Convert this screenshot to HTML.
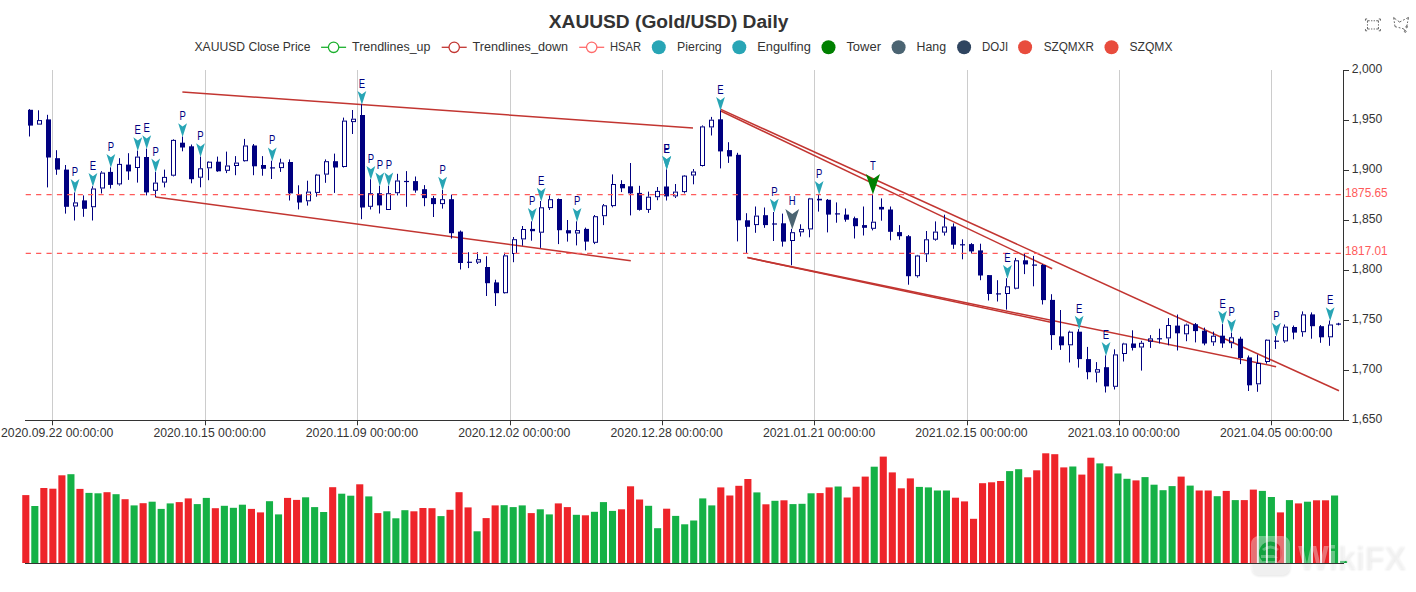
<!DOCTYPE html>
<html><head><meta charset="utf-8"><title>XAUUSD (Gold/USD) Daily</title>
<style>html,body{margin:0;padding:0;background:#fff;}body{width:1416px;height:592px;overflow:hidden;font-family:"Liberation Sans",sans-serif;}svg{display:block}</style>
</head><body>
<svg width="1416" height="592" viewBox="0 0 1416 592" font-family="'Liberation Sans', sans-serif">
<rect width="1416" height="592" fill="#fff"/>
<text x="668.6" y="28.4" font-size="18" font-weight="bold" fill="#333" text-anchor="middle" textLength="239.7" lengthAdjust="spacingAndGlyphs">XAUUSD (Gold/USD) Daily</text>
<text x="194.5" y="51.1" font-size="12.3" fill="#333" textLength="115.9" lengthAdjust="spacingAndGlyphs">XAUUSD Close Price</text>
<path d="M321.1 47.3H346.1" stroke="#1cb02e" stroke-width="1.3" fill="none"/>
<circle cx="333.6" cy="47.3" r="5.2" fill="#fff" stroke="#1cb02e" stroke-width="1.3"/>
<text x="352.1" y="51.1" font-size="12.3" fill="#333" textLength="78.3" lengthAdjust="spacingAndGlyphs">Trendlines_up</text>
<path d="M441.7 47.3H466.7" stroke="#c23531" stroke-width="1.3" fill="none"/>
<circle cx="454.2" cy="47.3" r="5.2" fill="#fff" stroke="#c23531" stroke-width="1.3"/>
<text x="472.5" y="51.1" font-size="12.3" fill="#333" textLength="95.6" lengthAdjust="spacingAndGlyphs">Trendlines_down</text>
<path d="M579.2 47.3H604.2" stroke="#ff6b6b" stroke-width="1.3" fill="none"/>
<circle cx="591.7" cy="47.3" r="5.2" fill="#fff" stroke="#ff6b6b" stroke-width="1.3"/>
<text x="610.0" y="51.1" font-size="12.3" fill="#333" textLength="31.0" lengthAdjust="spacingAndGlyphs">HSAR</text>
<circle cx="658.8" cy="47.3" r="7" fill="#28a5b5"/>
<text x="677.1" y="51.1" font-size="12.3" fill="#333" textLength="44.5" lengthAdjust="spacingAndGlyphs">Piercing</text>
<circle cx="739.3" cy="47.3" r="7" fill="#28a5b5"/>
<text x="757.3" y="51.1" font-size="12.3" fill="#333" textLength="53.5" lengthAdjust="spacingAndGlyphs">Engulfing</text>
<circle cx="828.5" cy="47.3" r="7" fill="#008000"/>
<text x="846.4" y="51.1" font-size="12.3" fill="#333" textLength="34.6" lengthAdjust="spacingAndGlyphs">Tower</text>
<circle cx="898.6" cy="47.3" r="7" fill="#4b6472"/>
<text x="916.6" y="51.1" font-size="12.3" fill="#333" textLength="29.5" lengthAdjust="spacingAndGlyphs">Hang</text>
<circle cx="964.1" cy="47.3" r="7" fill="#2f4560"/>
<text x="982.0" y="51.1" font-size="12.3" fill="#333" textLength="26.1" lengthAdjust="spacingAndGlyphs">DOJI</text>
<circle cx="1025.1" cy="47.3" r="7" fill="#e84c3d"/>
<text x="1043.7" y="51.1" font-size="12.3" fill="#333" textLength="50.2" lengthAdjust="spacingAndGlyphs">SZQMXR</text>
<circle cx="1111.5" cy="47.3" r="7" fill="#e84c3d"/>
<text x="1129.5" y="51.1" font-size="12.3" fill="#333" textLength="43.0" lengthAdjust="spacingAndGlyphs">SZQMX</text>
<g fill="none" stroke="#666" stroke-width="1">
<path transform="translate(1365.4,19.0) scale(0.168)" d="M0.4,10V-0.2h9.8 M89.6,10V-0.2h-9.8 M0.4,60v10.2h9.8 M89.6,60v10.2h-9.8 M12.3,22.4V10.5h13.1 M33.6,10.5h7.8 M49.1,10.5h7.8 M77.5,22.4V10.5h-13.1 M12.3,31.1v8.2 M77.7,31.1v8.2 M12.3,47.6v11.9h13.1 M33.6,59.5h7.6 M49.1,59.5h7.7 M77.5,47.6v11.9h-13.1" stroke-width="5.95"/>
<path transform="translate(1390.9,16.07) scale(0.285)" d="M55.2,34.9c1.7,0,3.1,1.4,3.1,3.1s-1.4,3.1-3.1,3.1s-3.1-1.4-3.1-3.1S53.5,34.9,55.2,34.9z M50.4,51c1.7,0,3.1,1.4,3.1,3.1c0,1.7-1.4,3.1-3.1,3.1c-1.7,0-3.1-1.4-3.1-3.1C47.3,52.4,48.7,51,50.4,51z M55.6,37.1l1.5-7.8 M60.1,13.5l1.6-8.7l-7.8,4 M59,19l-1,5.3 M24,16.1l6.4,4.9l6.4-3.3 M48.5,11.6l-5.9,3.1 M19.1,12.8L9.7,5.1l1.1,7.7 M13.4,29.8l1,7.3l6.6,1.6 M11.6,18.4l1,6.1 M27.3,40.2l6.1,1.6 M49.9,52.1l-5.6-7.6l-4.9-1.2" stroke-width="3.5"/>
</g>
<path d="M52.5 70.0V420.0" stroke="#ccc" stroke-width="1"/>
<path d="M205.5 70.0V420.0" stroke="#ccc" stroke-width="1"/>
<path d="M357.5 70.0V420.0" stroke="#ccc" stroke-width="1"/>
<path d="M510.5 70.0V420.0" stroke="#ccc" stroke-width="1"/>
<path d="M662.5 70.0V420.0" stroke="#ccc" stroke-width="1"/>
<path d="M814.5 70.0V420.0" stroke="#ccc" stroke-width="1"/>
<path d="M967.5 70.0V420.0" stroke="#ccc" stroke-width="1"/>
<path d="M1119.5 70.0V420.0" stroke="#ccc" stroke-width="1"/>
<path d="M1271.5 70.0V420.0" stroke="#ccc" stroke-width="1"/>
<path d="M25 420.5H1344" stroke="#333" stroke-width="1"/>
<path d="M1343.5 70.0V421.0" stroke="#333" stroke-width="1"/>
<path d="M52.5 420.5v4.8" stroke="#333" stroke-width="1"/>
<text x="57.2" y="437" font-size="12.4" fill="#333" text-anchor="middle" textLength="112.3" lengthAdjust="spacingAndGlyphs">2020.09.22 00:00:00</text>
<path d="M205.5 420.5v4.8" stroke="#333" stroke-width="1"/>
<text x="209.6" y="437" font-size="12.4" fill="#333" text-anchor="middle" textLength="112.3" lengthAdjust="spacingAndGlyphs">2020.10.15 00:00:00</text>
<path d="M357.5 420.5v4.8" stroke="#333" stroke-width="1"/>
<text x="361.9" y="437" font-size="12.4" fill="#333" text-anchor="middle" textLength="112.3" lengthAdjust="spacingAndGlyphs">2020.11.09 00:00:00</text>
<path d="M510.5 420.5v4.8" stroke="#333" stroke-width="1"/>
<text x="514.3" y="437" font-size="12.4" fill="#333" text-anchor="middle" textLength="112.3" lengthAdjust="spacingAndGlyphs">2020.12.02 00:00:00</text>
<path d="M662.5 420.5v4.8" stroke="#333" stroke-width="1"/>
<text x="666.7" y="437" font-size="12.4" fill="#333" text-anchor="middle" textLength="112.3" lengthAdjust="spacingAndGlyphs">2020.12.28 00:00:00</text>
<path d="M814.5 420.5v4.8" stroke="#333" stroke-width="1"/>
<text x="819.1" y="437" font-size="12.4" fill="#333" text-anchor="middle" textLength="112.3" lengthAdjust="spacingAndGlyphs">2021.01.21 00:00:00</text>
<path d="M967.5 420.5v4.8" stroke="#333" stroke-width="1"/>
<text x="971.4" y="437" font-size="12.4" fill="#333" text-anchor="middle" textLength="112.3" lengthAdjust="spacingAndGlyphs">2021.02.15 00:00:00</text>
<path d="M1119.5 420.5v4.8" stroke="#333" stroke-width="1"/>
<text x="1123.8" y="437" font-size="12.4" fill="#333" text-anchor="middle" textLength="112.3" lengthAdjust="spacingAndGlyphs">2021.03.10 00:00:00</text>
<path d="M1271.5 420.5v4.8" stroke="#333" stroke-width="1"/>
<text x="1276.2" y="437" font-size="12.4" fill="#333" text-anchor="middle" textLength="112.3" lengthAdjust="spacingAndGlyphs">2021.04.05 00:00:00</text>
<path d="M1343.5 70.5h5.5" stroke="#333" stroke-width="1"/>
<text x="1351.8" y="72.9" font-size="12.4" fill="#333" textLength="30.4" lengthAdjust="spacingAndGlyphs">2,000</text>
<path d="M1343.5 120.5h5.5" stroke="#333" stroke-width="1"/>
<text x="1351.8" y="122.9" font-size="12.4" fill="#333" textLength="30.4" lengthAdjust="spacingAndGlyphs">1,950</text>
<path d="M1343.5 170.5h5.5" stroke="#333" stroke-width="1"/>
<text x="1351.8" y="172.9" font-size="12.4" fill="#333" textLength="30.4" lengthAdjust="spacingAndGlyphs">1,900</text>
<path d="M1343.5 220.5h5.5" stroke="#333" stroke-width="1"/>
<text x="1351.8" y="222.9" font-size="12.4" fill="#333" textLength="30.4" lengthAdjust="spacingAndGlyphs">1,850</text>
<path d="M1343.5 270.5h5.5" stroke="#333" stroke-width="1"/>
<text x="1351.8" y="272.9" font-size="12.4" fill="#333" textLength="30.4" lengthAdjust="spacingAndGlyphs">1,800</text>
<path d="M1343.5 320.5h5.5" stroke="#333" stroke-width="1"/>
<text x="1351.8" y="322.9" font-size="12.4" fill="#333" textLength="30.4" lengthAdjust="spacingAndGlyphs">1,750</text>
<path d="M1343.5 370.5h5.5" stroke="#333" stroke-width="1"/>
<text x="1351.8" y="372.9" font-size="12.4" fill="#333" textLength="30.4" lengthAdjust="spacingAndGlyphs">1,700</text>
<path d="M1343.5 420.5h5.5" stroke="#333" stroke-width="1"/>
<text x="1351.8" y="422.9" font-size="12.4" fill="#333" textLength="30.4" lengthAdjust="spacingAndGlyphs">1,650</text>
<g stroke="#c23531" stroke-width="1.5" fill="none" stroke-linecap="butt">
<path d="M182.4 92.0L693 128.0"/>
<path d="M155.3 197.0L630.8 260.8"/>
<path d="M720.8 109.4L1339 390.8"/>
<path d="M720.8 111.0L1052.2 268.8"/>
<path d="M747.4 257.6L1276.1 366.7"/>
<path d="M747.4 257.6L1052 322.4"/>
</g>
<g stroke="#000080" stroke-width="1.05" fill="#000080">
<path d="M29.5 109.1V136.5" />
<rect x="28" y="109.8" width="5" height="15.8" stroke="none"/>
<path d="M38.5 110.3V120.1"/>
<rect x="37.5" y="120.6" width="4" height="3.5" fill="none" stroke-width="1"/>
<path d="M47.5 114.8V187.4" />
<rect x="46" y="119.4" width="5" height="38.1" stroke="none"/>
<path d="M56.5 150.2V174.8" />
<rect x="55" y="158.2" width="5" height="11.4" stroke="none"/>
<path d="M65.5 165.0V213.6" />
<rect x="64" y="169.6" width="5" height="37.2" stroke="none"/>
<path d="M74.5 192.4V202.4"/>
<path d="M74.5 206.5V220.5"/>
<rect x="73.5" y="202.9" width="4" height="3.1" fill="none" stroke-width="1"/>
<path d="M83.5 195.4V216.8" />
<rect x="82" y="200.4" width="5" height="8.4" stroke="none"/>
<path d="M92.5 186.2V188.5"/>
<path d="M92.5 207.2V220.5"/>
<rect x="91.5" y="189.0" width="4" height="17.7" fill="none" stroke-width="1"/>
<path d="M101.5 171.2V172.6"/>
<path d="M101.5 188.5V193.5"/>
<rect x="100.5" y="173.1" width="4" height="14.9" fill="none" stroke-width="1"/>
<path d="M110.5 167.3V188.5" />
<rect x="108" y="171.9" width="5" height="13.0" stroke="none"/>
<path d="M119.5 158.2V163.9"/>
<path d="M119.5 184.4V185.6"/>
<rect x="117.5" y="164.4" width="4" height="19.5" fill="none" stroke-width="1"/>
<path d="M128.5 153.2V179.9" />
<rect x="126" y="164.6" width="5" height="6.8" stroke="none"/>
<path d="M137.5 150.6V156.6"/>
<path d="M137.5 168.0V182.6"/>
<rect x="135.5" y="157.1" width="4" height="10.4" fill="none" stroke-width="1"/>
<path d="M146.5 148.6V195.4" />
<rect x="144" y="157.0" width="5" height="35.4" stroke="none"/>
<path d="M155.5 171.9V182.6"/>
<path d="M155.5 190.8V197.0"/>
<rect x="153.5" y="183.1" width="4" height="7.2" fill="none" stroke-width="1"/>
<path d="M164.5 169.6V176.9"/>
<path d="M164.5 182.6V187.4"/>
<rect x="162.5" y="177.4" width="4" height="4.7" fill="none" stroke-width="1"/>
<path d="M173.5 139.2V139.9"/>
<path d="M173.5 175.7V176.4"/>
<rect x="171.5" y="140.4" width="4" height="34.8" fill="none" stroke-width="1"/>
<path d="M182.5 136.5V151.3" />
<rect x="180" y="142.7" width="5" height="4.8" stroke="none"/>
<path d="M191.5 144.5V183.3" />
<rect x="189" y="146.3" width="5" height="32.9" stroke="none"/>
<path d="M200.5 156.6V168.3"/>
<path d="M200.5 177.7V187.3"/>
<rect x="198.5" y="168.8" width="4" height="8.4" fill="none" stroke-width="1"/>
<path d="M208.5 161.2V161.7"/>
<path d="M208.5 168.3V180.2"/>
<rect x="207.5" y="162.2" width="4" height="5.6" fill="none" stroke-width="1"/>
<path d="M217.5 156.6V171.8" />
<rect x="216" y="161.7" width="5" height="9.6" stroke="none"/>
<path d="M226.5 151.6V165.5"/>
<path d="M226.5 170.8V173.1"/>
<rect x="225.5" y="166.0" width="4" height="4.3" fill="none" stroke-width="1"/>
<path d="M235.5 156.1V162.6"/>
<path d="M235.5 165.9V175.2"/>
<rect x="234.5" y="163.1" width="4" height="2.4" fill="none" stroke-width="1"/>
<path d="M244.5 138.9V145.5"/>
<path d="M244.5 161.2V161.7"/>
<rect x="243.5" y="146.0" width="4" height="14.7" fill="none" stroke-width="1"/>
<path d="M253.5 144.0V175.2" />
<rect x="252" y="145.5" width="5" height="20.8" stroke="none"/>
<path d="M262.5 156.1V175.7" />
<rect x="261" y="165.0" width="5" height="3.8" stroke="none"/>
<path d="M271.5 160.7V179.0"/>
<path d="M270 167.9H275" stroke-width="1.2"/>
<path d="M280.5 158.7V162.5"/>
<path d="M280.5 168.1V171.9"/>
<rect x="279.5" y="163.0" width="4" height="4.6" fill="none" stroke-width="1"/>
<path d="M289.5 159.4V200.5" />
<rect x="288" y="162.0" width="5" height="31.4" stroke="none"/>
<path d="M298.5 185.3V209.4" />
<rect x="297" y="194.2" width="5" height="8.3" stroke="none"/>
<path d="M307.5 180.7V191.6"/>
<path d="M307.5 201.3V205.6"/>
<rect x="306.5" y="192.1" width="4" height="8.7" fill="none" stroke-width="1"/>
<path d="M316.5 173.9V174.6"/>
<path d="M316.5 192.9V196.7"/>
<rect x="315.5" y="175.1" width="4" height="17.3" fill="none" stroke-width="1"/>
<path d="M325.5 159.4V161.2"/>
<path d="M325.5 174.6V182.8"/>
<rect x="324.5" y="161.7" width="4" height="12.4" fill="none" stroke-width="1"/>
<path d="M334.5 153.6V192.9" />
<rect x="333" y="161.2" width="5" height="6.3" stroke="none"/>
<path d="M343.5 117.6V120.6"/>
<path d="M343.5 167.0V167.5"/>
<rect x="342.5" y="121.1" width="4" height="45.4" fill="none" stroke-width="1"/>
<path d="M352.5 110.0V118.7"/>
<path d="M352.5 122.1V134.0"/>
<rect x="351.5" y="119.2" width="4" height="2.4" fill="none" stroke-width="1"/>
<path d="M361.5 104.2V219.2" />
<rect x="360" y="115.0" width="5" height="92.5" stroke="none"/>
<path d="M370.5 179.2V193.2"/>
<path d="M370.5 206.8V209.5"/>
<rect x="368.5" y="193.7" width="4" height="12.6" fill="none" stroke-width="1"/>
<path d="M379.5 185.7V213.5" />
<rect x="377" y="193.2" width="5" height="12.2" stroke="none"/>
<path d="M388.5 185.7V193.2"/>
<rect x="386.5" y="193.7" width="4" height="15.8" fill="none" stroke-width="1"/>
<path d="M397.5 173.8V180.5"/>
<path d="M397.5 193.2V195.4"/>
<rect x="395.5" y="181.0" width="4" height="11.7" fill="none" stroke-width="1"/>
<path d="M406.5 171.1V206.8"/>
<path d="M404 181.5H409" stroke-width="1.2"/>
<path d="M415.5 176.5V192.7" />
<rect x="413" y="181.1" width="5" height="9.4" stroke="none"/>
<path d="M424.5 185.1V206.2" />
<rect x="422" y="189.2" width="5" height="8.9" stroke="none"/>
<path d="M433.5 195.9V217.0" />
<rect x="431" y="198.1" width="5" height="6.0" stroke="none"/>
<path d="M442.5 190.0V199.2"/>
<path d="M442.5 204.1V208.6"/>
<rect x="440.5" y="199.7" width="4" height="3.9" fill="none" stroke-width="1"/>
<path d="M451.5 194.6V238.6" />
<rect x="449" y="199.2" width="5" height="34.0" stroke="none"/>
<path d="M460.5 230.5V269.5" />
<rect x="458" y="231.6" width="5" height="31.4" stroke="none"/>
<path d="M468.5 252.2V268.1"/>
<path d="M467 262.3H472" stroke-width="1.2"/>
<path d="M477.5 252.2V259.2"/>
<path d="M477.5 262.6V264.0"/>
<rect x="476.5" y="259.7" width="4" height="2.4" fill="none" stroke-width="1"/>
<path d="M486.5 256.2V296.0" />
<rect x="485" y="267.0" width="5" height="16.2" stroke="none"/>
<path d="M495.5 279.7V306.0" />
<rect x="494" y="282.4" width="5" height="10.8" stroke="none"/>
<path d="M504.5 252.7V255.4"/>
<path d="M504.5 293.2V293.7"/>
<rect x="503.5" y="255.9" width="4" height="36.8" fill="none" stroke-width="1"/>
<path d="M513.5 237.0V239.2"/>
<path d="M513.5 254.0V262.2"/>
<rect x="512.5" y="239.7" width="4" height="13.8" fill="none" stroke-width="1"/>
<path d="M522.5 226.0V229.0"/>
<path d="M522.5 239.4V245.7"/>
<rect x="521.5" y="229.5" width="4" height="9.4" fill="none" stroke-width="1"/>
<path d="M531.5 221.3V240.7" />
<rect x="530" y="228.9" width="5" height="2.3" stroke="none"/>
<path d="M540.5 201.0V207.3"/>
<path d="M540.5 232.7V247.9"/>
<rect x="539.5" y="207.8" width="4" height="24.4" fill="none" stroke-width="1"/>
<path d="M549.5 195.4V199.2"/>
<path d="M549.5 208.1V209.9"/>
<rect x="548.5" y="199.7" width="4" height="7.9" fill="none" stroke-width="1"/>
<path d="M558.5 198.5V244.1" />
<rect x="557" y="199.0" width="5" height="31.2" stroke="none"/>
<path d="M567.5 220.0V241.6" />
<rect x="566" y="230.2" width="5" height="3.2" stroke="none"/>
<path d="M576.5 221.3V230.1"/>
<path d="M576.5 233.5V245.4"/>
<rect x="575.5" y="230.6" width="4" height="2.4" fill="none" stroke-width="1"/>
<path d="M585.5 227.6V250.4" />
<rect x="584" y="228.9" width="5" height="12.7" stroke="none"/>
<path d="M594.5 215.0V216.2"/>
<path d="M594.5 242.8V244.1"/>
<rect x="593.5" y="216.7" width="4" height="25.6" fill="none" stroke-width="1"/>
<path d="M603.5 204.0V205.3"/>
<path d="M603.5 216.2V225.1"/>
<rect x="602.5" y="205.8" width="4" height="9.9" fill="none" stroke-width="1"/>
<path d="M612.5 174.4V184.0"/>
<path d="M612.5 206.1V207.3"/>
<rect x="611.5" y="184.5" width="4" height="21.1" fill="none" stroke-width="1"/>
<path d="M621.5 180.2V192.1" />
<rect x="620" y="184.0" width="5" height="4.3" stroke="none"/>
<path d="M630.5 163.0V215.4" />
<rect x="628" y="186.3" width="5" height="7.1" stroke="none"/>
<path d="M639.5 185.8V210.6" />
<rect x="637" y="192.9" width="5" height="17.0" stroke="none"/>
<path d="M648.5 191.6V196.7"/>
<path d="M648.5 209.9V212.9"/>
<rect x="646.5" y="197.2" width="4" height="12.2" fill="none" stroke-width="1"/>
<path d="M657.5 187.0V190.9"/>
<path d="M657.5 197.2V200.2"/>
<rect x="655.5" y="191.4" width="4" height="5.3" fill="none" stroke-width="1"/>
<path d="M666.5 169.3V200.5" />
<rect x="664" y="186.5" width="5" height="9.9" stroke="none"/>
<path d="M675.5 184.0V191.6"/>
<path d="M675.5 196.4V198.0"/>
<rect x="673.5" y="192.1" width="4" height="3.8" fill="none" stroke-width="1"/>
<path d="M684.5 175.0V175.6"/>
<path d="M684.5 192.1V193.4"/>
<rect x="682.5" y="176.1" width="4" height="15.5" fill="none" stroke-width="1"/>
<path d="M693.5 169.0V171.5"/>
<path d="M693.5 175.5V184.3"/>
<rect x="691.5" y="172.0" width="4" height="3.0" fill="none" stroke-width="1"/>
<path d="M702.5 125.4V126.4"/>
<path d="M702.5 166.0V166.5"/>
<rect x="700.5" y="126.9" width="4" height="38.6" fill="none" stroke-width="1"/>
<path d="M711.5 116.9V119.7"/>
<path d="M711.5 127.4V135.5"/>
<rect x="709.5" y="120.2" width="4" height="6.7" fill="none" stroke-width="1"/>
<path d="M720.5 110.2V168.4" />
<rect x="718" y="119.3" width="5" height="32.1" stroke="none"/>
<path d="M728.5 142.2V162.9" />
<rect x="727" y="150.1" width="5" height="6.3" stroke="none"/>
<path d="M737.5 152.8V241.4" />
<rect x="736" y="154.8" width="5" height="65.5" stroke="none"/>
<path d="M746.5 213.2V253.1" />
<rect x="745" y="220.3" width="5" height="6.5" stroke="none"/>
<path d="M755.5 206.5V215.6"/>
<path d="M755.5 225.1V232.8"/>
<rect x="754.5" y="216.1" width="4" height="8.5" fill="none" stroke-width="1"/>
<path d="M764.5 207.5V227.8" />
<rect x="763" y="215.2" width="5" height="9.9" stroke="none"/>
<path d="M773.5 212.0V241.0"/>
<path d="M772 224.0H777" stroke-width="1.2"/>
<path d="M782.5 213.6V246.6" />
<rect x="781" y="223.3" width="5" height="18.3" stroke="none"/>
<path d="M791.5 228.8V232.2"/>
<path d="M791.5 241.0V265.3"/>
<rect x="790.5" y="232.7" width="4" height="7.8" fill="none" stroke-width="1"/>
<path d="M800.5 224.3V228.9"/>
<path d="M800.5 232.3V236.5"/>
<rect x="799.5" y="229.4" width="4" height="2.4" fill="none" stroke-width="1"/>
<path d="M809.5 197.9V198.4"/>
<path d="M809.5 229.4V237.3"/>
<rect x="808.5" y="198.9" width="4" height="30.0" fill="none" stroke-width="1"/>
<path d="M818.5 194.3V211.6" />
<rect x="817" y="198.8" width="5" height="1.6" stroke="none"/>
<path d="M827.5 199.0V232.4" />
<rect x="826" y="199.8" width="5" height="14.8" stroke="none"/>
<path d="M836.5 202.4V222.7"/>
<path d="M835 213.9H840" stroke-width="1.2"/>
<path d="M845.5 208.5V221.7" />
<rect x="844" y="214.6" width="5" height="5.1" stroke="none"/>
<path d="M854.5 216.6V238.5" />
<rect x="853" y="218.2" width="5" height="8.0" stroke="none"/>
<path d="M863.5 206.5V235.5" />
<rect x="862" y="225.1" width="5" height="2.7" stroke="none"/>
<path d="M872.5 193.9V221.7"/>
<path d="M872.5 228.8V230.4"/>
<rect x="871.5" y="222.2" width="4" height="6.1" fill="none" stroke-width="1"/>
<path d="M881.5 198.4V220.7" />
<rect x="879" y="206.9" width="5" height="2.6" stroke="none"/>
<path d="M890.5 206.5V240.3" />
<rect x="888" y="209.5" width="5" height="22.3" stroke="none"/>
<path d="M899.5 225.1V239.8" />
<rect x="897" y="232.1" width="5" height="4.1" stroke="none"/>
<path d="M908.5 235.0V284.7" />
<rect x="906" y="236.2" width="5" height="40.0" stroke="none"/>
<path d="M917.5 254.9V255.5"/>
<path d="M917.5 276.2V277.6"/>
<rect x="915.5" y="256.0" width="4" height="19.7" fill="none" stroke-width="1"/>
<path d="M926.5 231.0V239.3"/>
<path d="M926.5 254.3V262.0"/>
<rect x="924.5" y="239.8" width="4" height="14.0" fill="none" stroke-width="1"/>
<path d="M935.5 221.4V231.6"/>
<path d="M935.5 239.7V240.7"/>
<rect x="933.5" y="232.1" width="4" height="7.1" fill="none" stroke-width="1"/>
<path d="M944.5 214.7V226.5"/>
<path d="M944.5 232.6V235.6"/>
<rect x="942.5" y="227.0" width="4" height="5.1" fill="none" stroke-width="1"/>
<path d="M953.5 223.4V248.8" />
<rect x="951" y="226.5" width="5" height="18.2" stroke="none"/>
<path d="M962.5 239.3V259.3"/>
<path d="M960 244.8H965" stroke-width="1.2"/>
<path d="M971.5 243.1V253.5" />
<rect x="969" y="244.1" width="5" height="7.3" stroke="none"/>
<path d="M980.5 243.7V280.2" />
<rect x="978" y="250.4" width="5" height="25.1" stroke="none"/>
<path d="M988.5 275.1V300.5" />
<rect x="987" y="275.1" width="5" height="18.9" stroke="none"/>
<path d="M997.5 280.2V301.5"/>
<path d="M996 293.9H1001" stroke-width="1.2"/>
<path d="M1006.5 278.2V286.3"/>
<path d="M1006.5 294.0V309.6"/>
<rect x="1005.5" y="286.8" width="4" height="6.7" fill="none" stroke-width="1"/>
<path d="M1015.5 257.9V260.3"/>
<path d="M1015.5 288.7V289.3"/>
<rect x="1014.5" y="260.8" width="4" height="27.4" fill="none" stroke-width="1"/>
<path d="M1024.5 253.9V274.1" />
<rect x="1023" y="260.3" width="5" height="4.1" stroke="none"/>
<path d="M1033.5 255.9V286.3"/>
<path d="M1032 265.1H1037" stroke-width="1.2"/>
<path d="M1042.5 264.0V304.5" />
<rect x="1041" y="265.0" width="5" height="35.1" stroke="none"/>
<path d="M1051.5 294.2V349.9" />
<rect x="1050" y="299.9" width="5" height="35.2" stroke="none"/>
<path d="M1060.5 310.0V349.9" />
<rect x="1059" y="336.4" width="5" height="8.9" stroke="none"/>
<path d="M1069.5 330.7V331.7"/>
<path d="M1069.5 345.3V362.5"/>
<rect x="1068.5" y="332.2" width="4" height="12.6" fill="none" stroke-width="1"/>
<path d="M1078.5 329.1V367.6" />
<rect x="1077" y="331.7" width="5" height="27.4" stroke="none"/>
<path d="M1087.5 346.9V379.3" />
<rect x="1086" y="359.1" width="5" height="13.1" stroke="none"/>
<path d="M1096.5 362.1V369.2"/>
<path d="M1096.5 372.6V382.4"/>
<rect x="1095.5" y="369.7" width="4" height="2.4" fill="none" stroke-width="1"/>
<path d="M1105.5 355.4V392.5" />
<rect x="1104" y="367.2" width="5" height="19.2" stroke="none"/>
<path d="M1114.5 349.3V354.4"/>
<path d="M1114.5 386.8V389.5"/>
<rect x="1113.5" y="354.9" width="4" height="31.4" fill="none" stroke-width="1"/>
<path d="M1123.5 342.8V343.5"/>
<path d="M1123.5 354.0V361.5"/>
<rect x="1122.5" y="344.0" width="4" height="9.5" fill="none" stroke-width="1"/>
<path d="M1132.5 330.3V350.5" />
<rect x="1131" y="343.5" width="5" height="4.4" stroke="none"/>
<path d="M1141.5 340.8V342.8"/>
<path d="M1141.5 347.5V370.6"/>
<rect x="1139.5" y="343.3" width="4" height="3.7" fill="none" stroke-width="1"/>
<path d="M1150.5 335.1V338.4"/>
<path d="M1150.5 341.8V347.9"/>
<rect x="1148.5" y="338.9" width="4" height="2.4" fill="none" stroke-width="1"/>
<path d="M1159.5 328.7V343.5"/>
<path d="M1157 338.8H1162" stroke-width="1.2"/>
<path d="M1168.5 318.1V325.0"/>
<path d="M1168.5 338.4V345.3"/>
<rect x="1166.5" y="325.5" width="4" height="12.4" fill="none" stroke-width="1"/>
<path d="M1177.5 314.5V350.5" />
<rect x="1175" y="325.6" width="5" height="7.7" stroke="none"/>
<path d="M1186.5 323.6V324.6"/>
<path d="M1186.5 334.3V341.2"/>
<rect x="1184.5" y="325.1" width="4" height="8.7" fill="none" stroke-width="1"/>
<path d="M1195.5 323.0V342.4" />
<rect x="1193" y="324.2" width="5" height="6.9" stroke="none"/>
<path d="M1204.5 327.6V345.3" />
<rect x="1202" y="330.7" width="5" height="12.8" stroke="none"/>
<path d="M1213.5 331.6V335.7"/>
<path d="M1213.5 342.3V345.8"/>
<rect x="1211.5" y="336.2" width="4" height="5.6" fill="none" stroke-width="1"/>
<path d="M1222.5 324.1V347.8" />
<rect x="1220" y="335.7" width="5" height="7.7" stroke="none"/>
<path d="M1231.5 332.6V337.3"/>
<path d="M1231.5 343.2V348.2"/>
<rect x="1229.5" y="337.8" width="4" height="4.9" fill="none" stroke-width="1"/>
<path d="M1240.5 336.7V364.1" />
<rect x="1238" y="338.7" width="5" height="19.3" stroke="none"/>
<path d="M1248.5 355.5V391.0" />
<rect x="1247" y="357.4" width="5" height="27.9" stroke="none"/>
<path d="M1257.5 354.5V363.0"/>
<path d="M1257.5 384.3V391.8"/>
<rect x="1256.5" y="363.5" width="4" height="20.3" fill="none" stroke-width="1"/>
<path d="M1266.5 339.3V339.7"/>
<path d="M1266.5 362.0V363.7"/>
<rect x="1265.5" y="340.2" width="4" height="21.3" fill="none" stroke-width="1"/>
<path d="M1275.5 336.1V348.9"/>
<path d="M1274 341.2H1279" stroke-width="1.2"/>
<path d="M1284.5 324.5V326.6"/>
<path d="M1284.5 341.4V342.8"/>
<rect x="1283.5" y="327.1" width="4" height="13.8" fill="none" stroke-width="1"/>
<path d="M1293.5 325.5V339.3" />
<rect x="1292" y="327.0" width="5" height="5.6" stroke="none"/>
<path d="M1302.5 311.4V314.4"/>
<path d="M1302.5 332.2V336.7"/>
<rect x="1301.5" y="314.9" width="4" height="16.8" fill="none" stroke-width="1"/>
<path d="M1311.5 312.4V338.7" />
<rect x="1310" y="314.4" width="5" height="11.8" stroke="none"/>
<path d="M1320.5 325.1V342.8" />
<rect x="1319" y="326.2" width="5" height="11.1" stroke="none"/>
<path d="M1329.5 320.5V324.5"/>
<path d="M1329.5 337.3V345.8"/>
<rect x="1328.5" y="325.0" width="4" height="11.8" fill="none" stroke-width="1"/>
<path d="M1338.5 322.8V325.4" stroke-width="1"/>
<path d="M1336 324.1H1341" stroke-width="1.2"/>
</g>
<path d="M25.7 194.65H1343" stroke="#ff5a5a" stroke-width="1.2" stroke-dasharray="5.2 5.196" fill="none"/>
<text x="1345" y="196.7" font-size="12.4" fill="#ff5a5a" textLength="42.6" lengthAdjust="spacingAndGlyphs">1875.65</text>
<path d="M25.7 253.29H1343" stroke="#ff5a5a" stroke-width="1.2" stroke-dasharray="5.2 5.196" fill="none"/>
<text x="1345" y="255.4" font-size="12.4" fill="#ff5a5a" textLength="42.6" lengthAdjust="spacingAndGlyphs">1817.01</text>
<path d="M75.01 192.9L79.41 179.1L75.01 182.4L70.61 179.1Z" fill="#28a5b5"/>
<text transform="translate(75.01,176.1) scale(0.76,1)" font-size="12.5" fill="#000080" text-anchor="middle">P</text>
<path d="M92.94 186.7L97.34 172.9L92.94 176.2L88.54 172.9Z" fill="#28a5b5"/>
<text transform="translate(92.94,169.9) scale(0.76,1)" font-size="12.5" fill="#000080" text-anchor="middle">E</text>
<path d="M110.87 167.8L115.27 154.0L110.87 157.3L106.47 154.0Z" fill="#28a5b5"/>
<text transform="translate(110.87,151.0) scale(0.76,1)" font-size="12.5" fill="#000080" text-anchor="middle">P</text>
<path d="M137.77 151.1L142.17 137.3L137.77 140.6L133.37 137.3Z" fill="#28a5b5"/>
<text transform="translate(137.77,134.3) scale(0.76,1)" font-size="12.5" fill="#000080" text-anchor="middle">E</text>
<path d="M146.73 149.1L151.13 135.3L146.73 138.6L142.33 135.3Z" fill="#28a5b5"/>
<text transform="translate(146.73,132.3) scale(0.76,1)" font-size="12.5" fill="#000080" text-anchor="middle">E</text>
<path d="M155.70 172.4L160.10 158.6L155.70 161.9L151.30 158.6Z" fill="#28a5b5"/>
<text transform="translate(155.70,155.6) scale(0.76,1)" font-size="12.5" fill="#000080" text-anchor="middle">P</text>
<path d="M182.60 137.0L187.00 123.2L182.60 126.5L178.20 123.2Z" fill="#28a5b5"/>
<text transform="translate(182.60,120.2) scale(0.76,1)" font-size="12.5" fill="#000080" text-anchor="middle">P</text>
<path d="M200.53 157.1L204.93 143.3L200.53 146.6L196.13 143.3Z" fill="#28a5b5"/>
<text transform="translate(200.53,140.3) scale(0.76,1)" font-size="12.5" fill="#000080" text-anchor="middle">P</text>
<path d="M272.25 161.2L276.65 147.4L272.25 150.7L267.85 147.4Z" fill="#28a5b5"/>
<text transform="translate(272.25,144.4) scale(0.76,1)" font-size="12.5" fill="#000080" text-anchor="middle">P</text>
<path d="M361.90 104.7L366.30 90.9L361.90 94.2L357.50 90.9Z" fill="#28a5b5"/>
<text transform="translate(361.90,87.9) scale(0.76,1)" font-size="12.5" fill="#000080" text-anchor="middle">E</text>
<path d="M370.87 179.7L375.27 165.9L370.87 169.2L366.47 165.9Z" fill="#28a5b5"/>
<text transform="translate(370.87,162.9) scale(0.76,1)" font-size="12.5" fill="#000080" text-anchor="middle">P</text>
<path d="M379.83 186.2L384.23 172.4L379.83 175.7L375.43 172.4Z" fill="#28a5b5"/>
<text transform="translate(379.83,169.4) scale(0.76,1)" font-size="12.5" fill="#000080" text-anchor="middle">P</text>
<path d="M388.80 186.2L393.20 172.4L388.80 175.7L384.40 172.4Z" fill="#28a5b5"/>
<text transform="translate(388.80,169.4) scale(0.76,1)" font-size="12.5" fill="#000080" text-anchor="middle">P</text>
<path d="M442.59 190.5L446.99 176.7L442.59 180.0L438.19 176.7Z" fill="#28a5b5"/>
<text transform="translate(442.59,173.7) scale(0.76,1)" font-size="12.5" fill="#000080" text-anchor="middle">P</text>
<path d="M532.25 221.8L536.65 208.0L532.25 211.3L527.85 208.0Z" fill="#28a5b5"/>
<text transform="translate(532.25,205.0) scale(0.76,1)" font-size="12.5" fill="#000080" text-anchor="middle">P</text>
<path d="M541.21 201.5L545.61 187.7L541.21 191.0L536.81 187.7Z" fill="#28a5b5"/>
<text transform="translate(541.21,184.7) scale(0.76,1)" font-size="12.5" fill="#000080" text-anchor="middle">E</text>
<path d="M577.07 221.8L581.47 208.0L577.07 211.3L572.67 208.0Z" fill="#28a5b5"/>
<text transform="translate(577.07,205.0) scale(0.76,1)" font-size="12.5" fill="#000080" text-anchor="middle">P</text>
<path d="M666.73 169.8L671.13 156.0L666.73 159.3L662.33 156.0Z" fill="#28a5b5"/>
<text transform="translate(666.73,153.0) scale(0.76,1)" font-size="12.5" fill="#000080" text-anchor="middle">P</text>
<path d="M666.73 169.8L671.13 156.0L666.73 159.3L662.33 156.0Z" fill="#28a5b5"/>
<text transform="translate(666.73,153.0) scale(0.76,1)" font-size="12.5" fill="#000080" text-anchor="middle">E</text>
<path d="M720.52 110.7L724.92 96.9L720.52 100.2L716.12 96.9Z" fill="#28a5b5"/>
<text transform="translate(720.52,93.9) scale(0.76,1)" font-size="12.5" fill="#000080" text-anchor="middle">E</text>
<path d="M774.31 212.5L778.71 198.7L774.31 202.0L769.91 198.7Z" fill="#28a5b5"/>
<text transform="translate(774.31,195.7) scale(0.76,1)" font-size="12.5" fill="#000080" text-anchor="middle">P</text>
<path d="M792.25 229.3L799.15 209.0L792.25 214.0L785.35 209.0Z" fill="#4b6472"/>
<text transform="translate(792.25,204.8) scale(0.76,1)" font-size="12.5" fill="#000080" text-anchor="middle">H</text>
<path d="M819.14 194.8L823.54 181.0L819.14 184.3L814.74 181.0Z" fill="#28a5b5"/>
<text transform="translate(819.14,178.0) scale(0.76,1)" font-size="12.5" fill="#000080" text-anchor="middle">P</text>
<path d="M872.93 194.4L880.03 174.1L872.93 179.1L865.83 174.1Z" fill="#008000"/>
<text transform="translate(872.93,169.9) scale(0.76,1)" font-size="12.5" fill="#000080" text-anchor="middle">T</text>
<path d="M1007.42 278.7L1011.82 264.9L1007.42 268.2L1003.02 264.9Z" fill="#28a5b5"/>
<text transform="translate(1007.42,261.9) scale(0.76,1)" font-size="12.5" fill="#000080" text-anchor="middle">E</text>
<path d="M1079.14 329.6L1083.54 315.8L1079.14 319.1L1074.74 315.8Z" fill="#28a5b5"/>
<text transform="translate(1079.14,312.8) scale(0.76,1)" font-size="12.5" fill="#000080" text-anchor="middle">E</text>
<path d="M1106.04 355.9L1110.44 342.1L1106.04 345.4L1101.64 342.1Z" fill="#28a5b5"/>
<text transform="translate(1106.04,339.1) scale(0.76,1)" font-size="12.5" fill="#000080" text-anchor="middle">E</text>
<path d="M1222.59 324.6L1226.99 310.8L1222.59 314.1L1218.19 310.8Z" fill="#28a5b5"/>
<text transform="translate(1222.59,307.8) scale(0.76,1)" font-size="12.5" fill="#000080" text-anchor="middle">E</text>
<path d="M1231.55 333.1L1235.95 319.3L1231.55 322.6L1227.15 319.3Z" fill="#28a5b5"/>
<text transform="translate(1231.55,316.3) scale(0.76,1)" font-size="12.5" fill="#000080" text-anchor="middle">P</text>
<path d="M1276.38 336.6L1280.78 322.8L1276.38 326.1L1271.98 322.8Z" fill="#28a5b5"/>
<text transform="translate(1276.38,319.8) scale(0.76,1)" font-size="12.5" fill="#000080" text-anchor="middle">P</text>
<path d="M1330.17 321.0L1334.57 307.2L1330.17 310.5L1325.77 307.2Z" fill="#28a5b5"/>
<text transform="translate(1330.17,304.2) scale(0.76,1)" font-size="12.5" fill="#000080" text-anchor="middle">E</text>
<rect x="22.25" y="495.1" width="7.1" height="67.9" fill="#ee242a"/>
<rect x="31.28" y="506.0" width="7.1" height="57.0" fill="#15b146"/>
<rect x="40.30" y="488.0" width="7.1" height="75.0" fill="#ee242a"/>
<rect x="49.33" y="488.7" width="7.1" height="74.3" fill="#ee242a"/>
<rect x="58.35" y="475.3" width="7.1" height="87.7" fill="#ee242a"/>
<rect x="67.38" y="474.2" width="7.1" height="88.8" fill="#15b146"/>
<rect x="76.41" y="488.9" width="7.1" height="74.1" fill="#ee242a"/>
<rect x="85.43" y="492.9" width="7.1" height="70.1" fill="#15b146"/>
<rect x="94.46" y="493.3" width="7.1" height="69.7" fill="#15b146"/>
<rect x="103.48" y="492.2" width="7.1" height="70.8" fill="#ee242a"/>
<rect x="112.51" y="494.2" width="7.1" height="68.8" fill="#15b146"/>
<rect x="121.54" y="499.2" width="7.1" height="63.8" fill="#ee242a"/>
<rect x="130.56" y="505.4" width="7.1" height="57.6" fill="#15b146"/>
<rect x="139.59" y="503.2" width="7.1" height="59.8" fill="#ee242a"/>
<rect x="148.61" y="501.7" width="7.1" height="61.3" fill="#15b146"/>
<rect x="157.64" y="508.9" width="7.1" height="54.1" fill="#15b146"/>
<rect x="166.67" y="503.4" width="7.1" height="59.6" fill="#15b146"/>
<rect x="175.69" y="502.1" width="7.1" height="60.9" fill="#ee242a"/>
<rect x="184.72" y="498.4" width="7.1" height="64.6" fill="#ee242a"/>
<rect x="193.74" y="504.1" width="7.1" height="58.9" fill="#15b146"/>
<rect x="202.77" y="497.9" width="7.1" height="65.1" fill="#15b146"/>
<rect x="211.80" y="508.2" width="7.1" height="54.8" fill="#ee242a"/>
<rect x="220.82" y="505.8" width="7.1" height="57.2" fill="#15b146"/>
<rect x="229.85" y="507.8" width="7.1" height="55.2" fill="#15b146"/>
<rect x="238.87" y="504.7" width="7.1" height="58.3" fill="#15b146"/>
<rect x="247.90" y="508.9" width="7.1" height="54.1" fill="#ee242a"/>
<rect x="256.93" y="512.4" width="7.1" height="50.6" fill="#ee242a"/>
<rect x="265.95" y="501.2" width="7.1" height="61.8" fill="#15b146"/>
<rect x="274.98" y="514.4" width="7.1" height="48.6" fill="#15b146"/>
<rect x="284.00" y="497.9" width="7.1" height="65.1" fill="#ee242a"/>
<rect x="293.03" y="499.9" width="7.1" height="63.1" fill="#ee242a"/>
<rect x="302.06" y="497.3" width="7.1" height="65.7" fill="#15b146"/>
<rect x="311.08" y="507.1" width="7.1" height="55.9" fill="#15b146"/>
<rect x="320.11" y="512.0" width="7.1" height="51.0" fill="#15b146"/>
<rect x="329.13" y="487.2" width="7.1" height="75.8" fill="#ee242a"/>
<rect x="338.16" y="493.7" width="7.1" height="69.3" fill="#15b146"/>
<rect x="347.19" y="495.7" width="7.1" height="67.3" fill="#15b146"/>
<rect x="356.21" y="484.3" width="7.1" height="78.7" fill="#ee242a"/>
<rect x="365.24" y="496.4" width="7.1" height="66.6" fill="#15b146"/>
<rect x="374.26" y="513.1" width="7.1" height="49.9" fill="#ee242a"/>
<rect x="383.29" y="511.3" width="7.1" height="51.7" fill="#15b146"/>
<rect x="392.32" y="518.3" width="7.1" height="44.7" fill="#15b146"/>
<rect x="401.34" y="510.2" width="7.1" height="52.8" fill="#15b146"/>
<rect x="410.37" y="511.3" width="7.1" height="51.7" fill="#ee242a"/>
<rect x="419.39" y="508.0" width="7.1" height="55.0" fill="#ee242a"/>
<rect x="428.42" y="508.2" width="7.1" height="54.8" fill="#ee242a"/>
<rect x="437.45" y="516.1" width="7.1" height="46.9" fill="#15b146"/>
<rect x="446.47" y="509.8" width="7.1" height="53.2" fill="#ee242a"/>
<rect x="455.50" y="492.2" width="7.1" height="70.8" fill="#ee242a"/>
<rect x="464.52" y="507.4" width="7.1" height="55.6" fill="#ee242a"/>
<rect x="473.55" y="531.3" width="7.1" height="31.7" fill="#15b146"/>
<rect x="482.58" y="518.1" width="7.1" height="44.9" fill="#ee242a"/>
<rect x="491.60" y="505.4" width="7.1" height="57.6" fill="#ee242a"/>
<rect x="500.63" y="505.2" width="7.1" height="57.8" fill="#15b146"/>
<rect x="509.65" y="507.1" width="7.1" height="55.9" fill="#15b146"/>
<rect x="518.68" y="505.4" width="7.1" height="57.6" fill="#15b146"/>
<rect x="527.71" y="513.1" width="7.1" height="49.9" fill="#ee242a"/>
<rect x="536.73" y="509.3" width="7.1" height="53.7" fill="#15b146"/>
<rect x="545.76" y="514.4" width="7.1" height="48.6" fill="#15b146"/>
<rect x="554.78" y="503.4" width="7.1" height="59.6" fill="#ee242a"/>
<rect x="563.81" y="507.1" width="7.1" height="55.9" fill="#ee242a"/>
<rect x="572.84" y="514.8" width="7.1" height="48.2" fill="#15b146"/>
<rect x="581.86" y="515.3" width="7.1" height="47.7" fill="#ee242a"/>
<rect x="590.89" y="511.8" width="7.1" height="51.2" fill="#15b146"/>
<rect x="599.91" y="502.1" width="7.1" height="60.9" fill="#15b146"/>
<rect x="608.94" y="510.9" width="7.1" height="52.1" fill="#15b146"/>
<rect x="617.97" y="509.3" width="7.1" height="53.7" fill="#ee242a"/>
<rect x="626.99" y="486.3" width="7.1" height="76.7" fill="#ee242a"/>
<rect x="636.02" y="499.5" width="7.1" height="63.5" fill="#ee242a"/>
<rect x="645.04" y="505.8" width="7.1" height="57.2" fill="#15b146"/>
<rect x="654.07" y="528.2" width="7.1" height="34.8" fill="#15b146"/>
<rect x="663.10" y="508.7" width="7.1" height="54.3" fill="#ee242a"/>
<rect x="672.12" y="515.9" width="7.1" height="47.1" fill="#15b146"/>
<rect x="681.15" y="524.3" width="7.1" height="38.7" fill="#15b146"/>
<rect x="690.17" y="520.5" width="7.1" height="42.5" fill="#15b146"/>
<rect x="699.20" y="498.4" width="7.1" height="64.6" fill="#15b146"/>
<rect x="708.23" y="505.4" width="7.1" height="57.6" fill="#15b146"/>
<rect x="717.25" y="487.4" width="7.1" height="75.6" fill="#ee242a"/>
<rect x="726.28" y="495.5" width="7.1" height="67.5" fill="#ee242a"/>
<rect x="735.30" y="485.8" width="7.1" height="77.2" fill="#ee242a"/>
<rect x="744.33" y="479.0" width="7.1" height="84.0" fill="#ee242a"/>
<rect x="753.36" y="492.4" width="7.1" height="70.6" fill="#15b146"/>
<rect x="762.38" y="504.3" width="7.1" height="58.7" fill="#ee242a"/>
<rect x="771.41" y="500.8" width="7.1" height="62.2" fill="#15b146"/>
<rect x="780.43" y="500.3" width="7.1" height="62.7" fill="#ee242a"/>
<rect x="789.46" y="504.1" width="7.1" height="58.9" fill="#15b146"/>
<rect x="798.49" y="503.8" width="7.1" height="59.2" fill="#15b146"/>
<rect x="807.51" y="493.3" width="7.1" height="69.7" fill="#15b146"/>
<rect x="816.54" y="493.1" width="7.1" height="69.9" fill="#ee242a"/>
<rect x="825.56" y="487.4" width="7.1" height="75.6" fill="#ee242a"/>
<rect x="834.59" y="486.5" width="7.1" height="76.5" fill="#15b146"/>
<rect x="843.62" y="497.5" width="7.1" height="65.5" fill="#ee242a"/>
<rect x="852.64" y="486.7" width="7.1" height="76.3" fill="#ee242a"/>
<rect x="861.67" y="476.6" width="7.1" height="86.4" fill="#ee242a"/>
<rect x="870.69" y="466.7" width="7.1" height="96.3" fill="#15b146"/>
<rect x="879.72" y="456.6" width="7.1" height="106.4" fill="#ee242a"/>
<rect x="888.75" y="472.4" width="7.1" height="90.6" fill="#ee242a"/>
<rect x="897.77" y="488.3" width="7.1" height="74.7" fill="#ee242a"/>
<rect x="906.80" y="478.4" width="7.1" height="84.6" fill="#ee242a"/>
<rect x="915.82" y="486.9" width="7.1" height="76.1" fill="#15b146"/>
<rect x="924.85" y="487.4" width="7.1" height="75.6" fill="#15b146"/>
<rect x="933.88" y="490.5" width="7.1" height="72.5" fill="#15b146"/>
<rect x="942.90" y="490.5" width="7.1" height="72.5" fill="#15b146"/>
<rect x="951.93" y="497.7" width="7.1" height="65.3" fill="#ee242a"/>
<rect x="960.95" y="501.4" width="7.1" height="61.6" fill="#ee242a"/>
<rect x="969.98" y="518.8" width="7.1" height="44.2" fill="#ee242a"/>
<rect x="979.01" y="483.2" width="7.1" height="79.8" fill="#ee242a"/>
<rect x="988.03" y="482.3" width="7.1" height="80.7" fill="#ee242a"/>
<rect x="997.06" y="481.0" width="7.1" height="82.0" fill="#ee242a"/>
<rect x="1006.08" y="471.1" width="7.1" height="91.9" fill="#15b146"/>
<rect x="1015.11" y="469.2" width="7.1" height="93.8" fill="#15b146"/>
<rect x="1024.14" y="477.3" width="7.1" height="85.7" fill="#ee242a"/>
<rect x="1033.16" y="470.3" width="7.1" height="92.7" fill="#ee242a"/>
<rect x="1042.19" y="453.3" width="7.1" height="109.7" fill="#ee242a"/>
<rect x="1051.21" y="454.2" width="7.1" height="108.8" fill="#ee242a"/>
<rect x="1060.24" y="467.4" width="7.1" height="95.6" fill="#ee242a"/>
<rect x="1069.27" y="466.5" width="7.1" height="96.5" fill="#15b146"/>
<rect x="1078.29" y="474.6" width="7.1" height="88.4" fill="#ee242a"/>
<rect x="1087.32" y="457.7" width="7.1" height="105.3" fill="#ee242a"/>
<rect x="1096.34" y="463.4" width="7.1" height="99.6" fill="#15b146"/>
<rect x="1105.37" y="466.3" width="7.1" height="96.7" fill="#ee242a"/>
<rect x="1114.40" y="473.5" width="7.1" height="89.5" fill="#15b146"/>
<rect x="1123.42" y="478.8" width="7.1" height="84.2" fill="#15b146"/>
<rect x="1132.45" y="480.4" width="7.1" height="82.6" fill="#ee242a"/>
<rect x="1141.47" y="477.1" width="7.1" height="85.9" fill="#15b146"/>
<rect x="1150.50" y="484.7" width="7.1" height="78.3" fill="#15b146"/>
<rect x="1159.53" y="490.2" width="7.1" height="72.8" fill="#15b146"/>
<rect x="1168.55" y="486.1" width="7.1" height="76.9" fill="#15b146"/>
<rect x="1177.58" y="476.6" width="7.1" height="86.4" fill="#ee242a"/>
<rect x="1186.60" y="485.6" width="7.1" height="77.4" fill="#15b146"/>
<rect x="1195.63" y="490.5" width="7.1" height="72.5" fill="#ee242a"/>
<rect x="1204.66" y="490.5" width="7.1" height="72.5" fill="#ee242a"/>
<rect x="1213.68" y="496.2" width="7.1" height="66.8" fill="#15b146"/>
<rect x="1222.71" y="490.9" width="7.1" height="72.1" fill="#ee242a"/>
<rect x="1231.73" y="500.1" width="7.1" height="62.9" fill="#15b146"/>
<rect x="1240.76" y="500.1" width="7.1" height="62.9" fill="#ee242a"/>
<rect x="1249.79" y="489.6" width="7.1" height="73.4" fill="#ee242a"/>
<rect x="1258.81" y="490.9" width="7.1" height="72.1" fill="#15b146"/>
<rect x="1267.84" y="497.0" width="7.1" height="66.0" fill="#15b146"/>
<rect x="1276.86" y="512.4" width="7.1" height="50.6" fill="#ee242a"/>
<rect x="1285.89" y="500.1" width="7.1" height="62.9" fill="#15b146"/>
<rect x="1294.92" y="503.4" width="7.1" height="59.6" fill="#ee242a"/>
<rect x="1303.94" y="501.7" width="7.1" height="61.3" fill="#15b146"/>
<rect x="1312.97" y="500.3" width="7.1" height="62.7" fill="#ee242a"/>
<rect x="1321.99" y="500.3" width="7.1" height="62.7" fill="#ee242a"/>
<rect x="1331.02" y="495.5" width="7.1" height="67.5" fill="#15b146"/>
<rect x="1340.05" y="560.9" width="7.1" height="2.1" fill="#15b146"/>
<defs><filter id="wb" x="-10%" y="-10%" width="120%" height="130%"><feGaussianBlur stdDeviation="0.9"/></filter></defs>
<g fill="#000" opacity="0.085" filter="url(#wb)" transform="translate(0.5,1.6)"><path d="M1259 536h23a8 8 0 0 1 8 8v23a8 8 0 0 1 -8 8h-23a8 8 0 0 1 -8 -8v-23a8 8 0 0 1 8 -8z"/><text x="1298.2" y="568.6" font-size="33" font-weight="bold" textLength="107.2" lengthAdjust="spacingAndGlyphs">WikiFX</text></g>
<g fill="#fff" opacity="0.36"><path fill-rule="evenodd" d="M1259 536h23a8 8 0 0 1 8 8v23a8 8 0 0 1 -8 8h-23a8 8 0 0 1 -8 -8v-23a8 8 0 0 1 8 -8zM1270.5 541.4a11.6 11.6 0 1 0 0.01 0z"/><path d="M1262 549q8.5 -7 17 0l-2 2q-6.5 -5 -13 0z M1261 555h13l4 3h-17z M1263 561h12v2.4h-12z M1280 546l6 7l-6 7z" opacity="0.8"/><text x="1298.2" y="568.6" font-size="33" font-weight="bold" textLength="107.2" lengthAdjust="spacingAndGlyphs">WikiFX</text></g>
<path d="M25 563.5H1344" stroke="#333" stroke-width="1"/>
</svg>
</body></html>
